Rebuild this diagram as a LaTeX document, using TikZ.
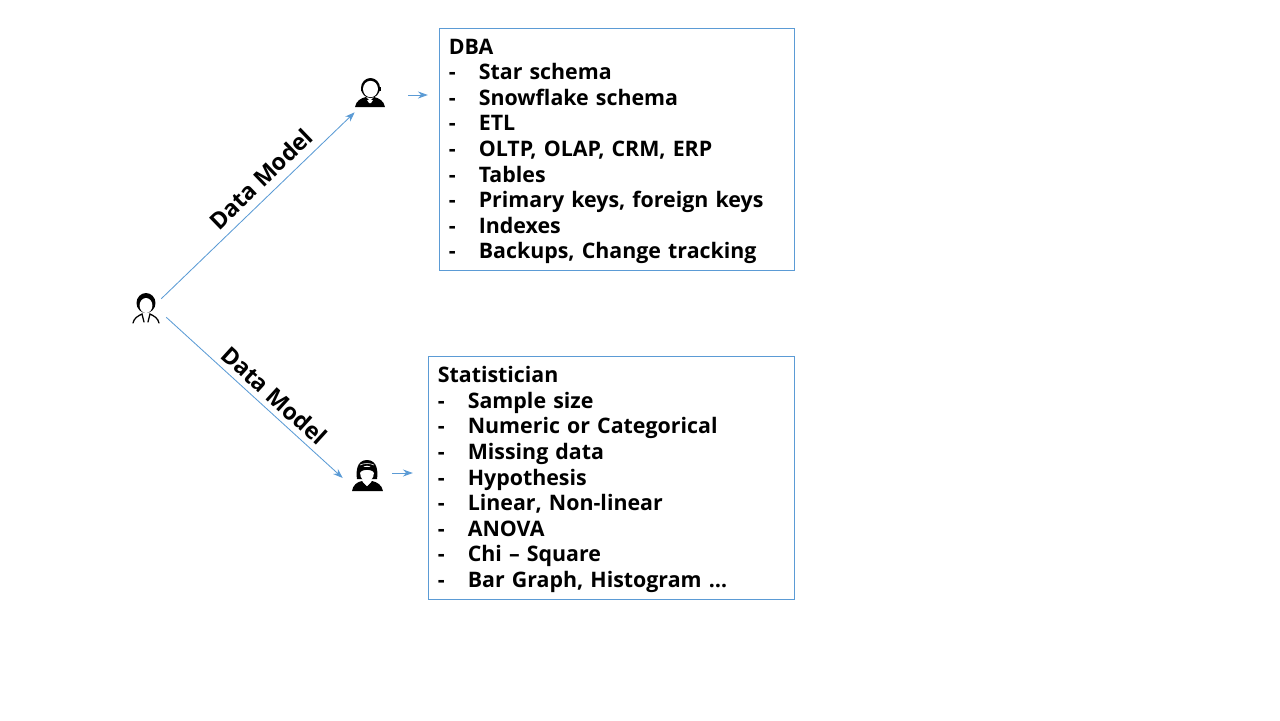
\documentclass[tikz,border=0pt]{standalone}
\usepackage{fontspec}
\setmainfont{Open Sans}
\usetikzlibrary{arrows.meta, positioning, calc}
\definecolor{lineblue}{HTML}{5B9BD5}
\newcommand{\itm}[1]{\makebox[0.75cm][l]{-}#1}
\tikzset{
  listbox/.style={draw=lineblue, line width=0.7pt, align=left, anchor=north west, inner xsep=0.2375cm, inner ysep=0.1cm,
    font=\fontsize{15.2}{18.2}\selectfont\bfseries, execute at begin node=\rule{0pt}{14pt}},
  person/.style={minimum width=#1, inner sep=0pt},
  arr/.style={-{Stealth[length=7pt, width=5pt]}, draw=lineblue, line width=0.6pt},
  lab/.style={font=\fontsize{16.5}{18.2}\selectfont\bfseries, sloped, above},
}

\begin{document}
\begin{tikzpicture}[px/.style={x=0.025cm,y=-0.025cm}]
  \useasboundingbox (0,0) rectangle (32,-18);

  % people
  \node[person=0.75cm, minimum height=0.5cm] (boss) at (3.65,-7.725) {};
  \node[person=0.75cm, minimum height=0.85cm] (dba) at (9.25,-2.375) {};
  \node[person=1.15cm, minimum height=0.5cm] (stat) at (9.15,-11.825) {};

  % boss icon
  \begin{scope}[shift={(boss.center)}, px]
    \fill[black] (0,-6) ellipse (9.5 and 10);
    \fill[white] (0,-3.5) ellipse (6.4 and 7.5);
    \draw[line width=0.9pt, line cap=round] (-13,14) .. controls (-12,9) and (-8,7) .. (-4,5) -- (-2,13);
    \draw[line width=0.9pt, line cap=round] (13,14) .. controls (12,9) and (8,7) .. (4,5) -- (2,13);
  \end{scope}

  % dba icon
  \begin{scope}[shift={(dba.center)}, px]
    \fill[black] (-15,12) .. controls (-14,6) and (-9,3) .. (-4,2) -- (0,6) -- (4,2) .. controls (9,3) and (14,6) .. (15,12) -- cycle;
    \fill[white] (-3,5) -- (3,5) -- (1,8) -- (-1,8) -- cycle;
    \fill[black] (0.5,-7) ellipse (9.5 and 10);
    \fill[white] (0.5,-6) ellipse (7.5 and 8.2);
    \fill[black] (-9.5,-8) rectangle (-7.5,-4);
    \fill[black] (8.5,-8) rectangle (10.5,-4);
  \end{scope}

  % statistician icon
  \begin{scope}[shift={(stat.center)}, px]
    \fill[black] (-9,6) .. controls (-10,0) and (-10,-13) .. (1,-13) .. controls (12,-13) and (12,0) .. (11,6) -- cycle;
    \fill[white] (1,0.5) ellipse (6.8 and 7.8);
    \fill[black] (-6,-1) .. controls (-2,-4) and (4,-4) .. (8,-1) -- (8,-6) -- (-6,-6) -- cycle;
    \draw[white, line width=0.4pt] (-6,-8) .. controls (-2,-10) and (4,-10) .. (8,-8);
    \fill[black] (-14,18) .. controls (-13,12) and (-9,9) .. (-4,8) -- (1,13) -- (6,8) .. controls (11,9) and (16,12) .. (17,18) -- cycle;
    \fill[white] (-3,9) -- (5,9) -- (1,13) -- cycle;
  \end{scope}

  % lists
  \node[listbox, text width=8.4cm, minimum height=6.05cm] (dbabox) at (10.97,-0.695)
    {DBA\\
     \itm{Star schema}\\
     \itm{Snowflake schema}\\
     \itm{ETL}\\
     \itm{OLTP, OLAP, CRM, ERP}\\
     \itm{Tables}\\
     \itm{Primary keys, foreign keys}\\
     \itm{Indexes}\\
     \itm{Backups, Change tracking}};
  \node[listbox, text width=8.675cm, minimum height=6.075cm] (statbox) at (10.695,-8.895)
    {Statistician\\
     \itm{Sample size}\\
     \itm{Numeric or Categorical}\\
     \itm{Missing data}\\
     \itm{Hypothesis}\\
     \itm{Linear, Non-linear}\\
     \itm{ANOVA}\\
     \itm{Chi -- Square}\\
     \itm{Bar Graph, Histogram \dots}};

  % connectors
  \draw[arr] (boss.north east) -- (dba.south west)
    node[lab, pos=.576, yshift=0.075cm] {Data Model};
  \draw[arr] ([shift={(0.125cm,0.05cm)}]boss.south east) -- ([yshift=-0.125cm]stat.west)
    node[lab, pos=.556, yshift=0.025cm] {Data Model};
  \draw[arr, shorten <=0.575cm, shorten >=0.275cm] (dba.east) -- (dba.east -| dbabox.west);
  \draw[arr, shorten <=0.075cm, shorten >=0.375cm] (stat.east) -- (stat.east -| statbox.west);
\end{tikzpicture}
\end{document}
